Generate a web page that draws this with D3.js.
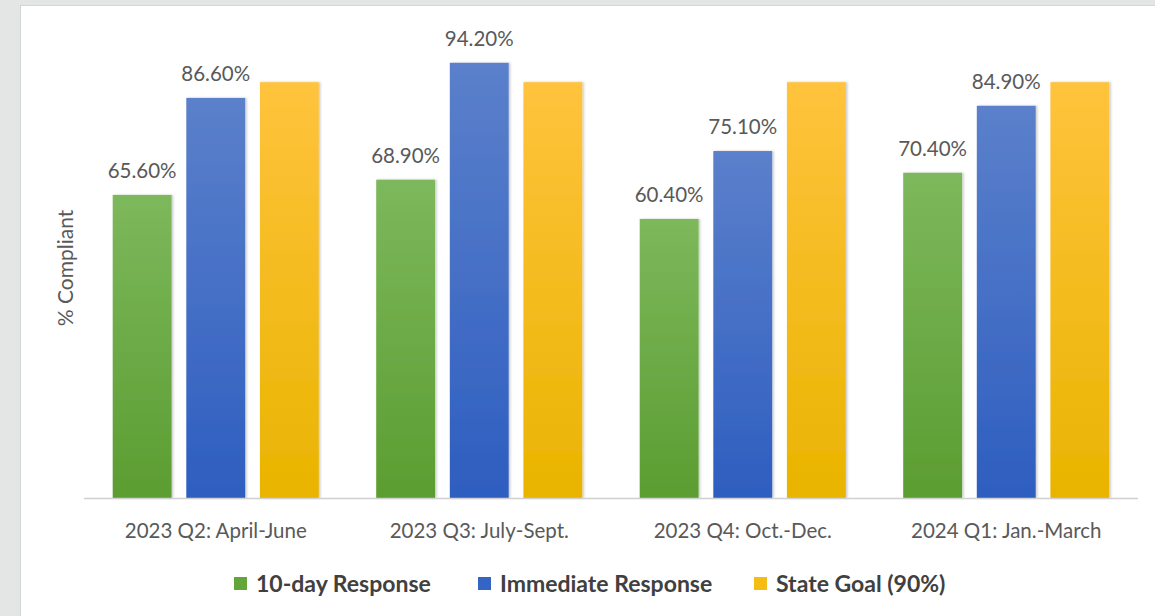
<!DOCTYPE html>
<html>
<head>
<meta charset="utf-8">
<script src="https://cdn.jsdelivr.net/npm/d3@7"></script>
<style>
  html, body { margin: 0; padding: 0; background: #e4e6e6; }
  svg { display: block; }
</style>
</head>
<body>
<div id="bigdiv"></div>
<script>
// chart data
const categories = ['2023 Q2: April-June', '2023 Q3: July-Sept.', '2023 Q4: Oct.-Dec.', '2024 Q1: Jan.-March']
const seriesNames = ['10-day Response', 'Immediate Response', 'State Goal (90%)']
const tenDay = [65.6, 68.9, 60.4, 70.4]
const immediate = [86.6, 94.2, 75.1, 84.9]
const stateGoal = [90, 90, 90, 90]

// colours: [top, bottom] of each bar gradient, plus legend swatch
const seriesColors = [
    { top: '#7db85c', bottom: '#5b9d31', key: '#62a53a' },
    { top: '#5b80cb', bottom: '#2e5ec0', key: '#3565c4' },
    { top: '#ffc33d', bottom: '#e9b400', key: '#f5bd14' }
]

const W = 1155, H = 616
const margin = { left: 84, right: 17, top: 36, bottom: 118 }
const fontFam = 'Lato, "Open Sans", sans-serif'

const svg = d3.select('div#bigdiv').append('svg')
    .attr('width', W).attr('height', H)

// white panel on grey page
svg.append('rect')
    .attr('x', 20.5).attr('y', 5.5).attr('width', W).attr('height', H)
    .attr('fill', 'white').attr('stroke', '#d4d6d6').attr('stroke-width', 1)

const defs = svg.append('defs')
seriesColors.forEach((c, i) => {
    let g = defs.append('linearGradient').attr('id', 'grad' + i)
        .attr('x1', 0).attr('y1', 0).attr('x2', 0).attr('y2', 1)
    g.append('stop').attr('offset', '0%').attr('stop-color', c.top)
    g.append('stop').attr('offset', '100%').attr('stop-color', c.bottom)
})
let shadow = defs.append('filter').attr('id', 'shadow')
    .attr('x', '-10%').attr('y', '-5%').attr('width', '125%').attr('height', '110%')
shadow.append('feDropShadow').attr('dx', 1.5).attr('dy', 0).attr('stdDeviation', 1.2)
    .attr('flood-color', '#000').attr('flood-opacity', 0.22)

const x0 = d3.scaleBand().domain(categories)
    .range([margin.left, W - margin.right]).paddingInner(0).paddingOuter(0)
// bars ~59px wide with ~15px gaps inside each 263px category
const x1 = d3.scaleBand().domain(seriesNames)
    .range([0, x0.bandwidth()]).paddingInner(0.2).paddingOuter(0.39)
const y = d3.scaleLinear().domain([0, 100]).range([H - margin.bottom, margin.top])

const allSeries = [tenDay, immediate, stateGoal]
const rows = categories.map((c, i) => ({
    cat: c,
    vals: seriesNames.map((s, k) => ({ s: s, k: k, v: allSeries[k][i] }))
}))

const groups = svg.append('g').selectAll('g.catg')
    .data(rows).enter().append('g')
    .attr('class', 'catg')
    .attr('transform', d => 'translate(' + x0(d.cat) + ',0)')

groups.selectAll('rect')
    .data(d => d.vals).enter().append('rect')
    .attr('x', d => x1(d.s))
    .attr('y', d => y(d.v))
    .attr('width', x1.bandwidth())
    .attr('height', d => y(0) - y(d.v))
    .attr('fill', d => 'url(#grad' + d.k + ')')
    .attr('filter', 'url(#shadow)')

// value labels (goal bars have none)
groups.selectAll('text.vlabel')
    .data(d => d.vals.filter(v => v.k < 2)).enter().append('text')
    .attr('class', 'vlabel')
    .attr('x', d => x1(d.s) + x1.bandwidth() / 2)
    .attr('y', d => y(d.v) - 17)
    .attr('text-anchor', 'middle')
    .attr('font-family', fontFam)
    .attr('font-size', 20.5)
    .attr('fill', '#595959')
    .text(d => d.v.toFixed(2) + '%')

// x axis
const xAxis = svg.append('g')
    .attr('transform', 'translate(0,' + y(0) + ')')
    .call(d3.axisBottom(x0).tickSize(0).tickPadding(25))
xAxis.select('.domain').attr('stroke', '#d0d0d0').attr('stroke-width', 1.5)
    .attr('d', 'M' + margin.left + ',0.5H' + (W - margin.right))
xAxis.selectAll('text')
    .attr('font-family', fontFam)
    .attr('font-size', 20.5)
    .attr('fill', '#595959')

// y axis title
svg.append('text')
    .attr('transform', 'translate(73,268) rotate(-90)')
    .attr('text-anchor', 'middle')
    .attr('font-family', fontFam)
    .attr('font-size', 21)
    .attr('fill', '#595959')
    .text('% Compliant')

// legend
const legendX = [234, 478, 754]
const legend = svg.append('g').selectAll('g.legg')
    .data(seriesNames).enter().append('g')
    .attr('class', 'legg')
    .attr('transform', (d, i) => 'translate(' + legendX[i] + ',577)')
legend.append('rect')
    .attr('width', 13).attr('height', 13)
    .attr('fill', (d, i) => seriesColors[i].key)
legend.append('text')
    .attr('x', 22).attr('y', 15)
    .attr('font-family', fontFam)
    .attr('font-weight', 'bold')
    .attr('font-size', 23)
    .attr('fill', '#404040')
    .text(d => d)
</script>
</body>
</html>
